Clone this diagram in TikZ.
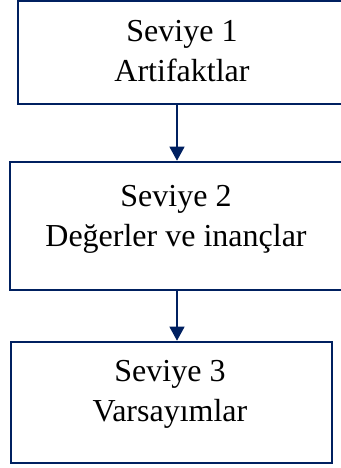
\documentclass[tikz,border=0pt]{standalone}
\usepackage{fontspec}
\setmainfont{Liberation Serif}
\usetikzlibrary{arrows.meta}
\definecolor{navy}{RGB}{0,32,96}
\begin{document}
\begin{tikzpicture}[x=1pt,y=1pt,
  box/.style={draw=navy,line width=2.6pt,rectangle,inner sep=0pt},
  lbl/.style={font=\fontsize{32}{40}\selectfont,align=center,anchor=base,inner sep=0pt},
  arr/.style={draw=navy,line width=1.2pt,-{Triangle[width=15pt,length=14pt]}}]
\useasboundingbox (0,0) rectangle (340,468);
\node[box,minimum width=328pt,minimum height=103pt] (b1) at (182,415.5) {};
\node[box,minimum width=334pt,minimum height=128pt] (b2) at (177,242) {};
\node[box,minimum width=321pt,minimum height=121pt] (b3) at (171.5,65.5) {};
\node[lbl] (t1) at (182,386.3) {Seviye 1\\Artifaktlar};
\node[lbl] (t2) at (176,221.3) {Seviye 2\\Değerler ve inançlar};
\node[lbl] (t3) at (170,46.3) {Seviye 3\\Varsayımlar};
\draw[arr] (b1.south -| b2.north) -- (b2.north);
\draw[arr] (b2.south) -- (b3.north -| b2.south);
\end{tikzpicture}
\end{document}
